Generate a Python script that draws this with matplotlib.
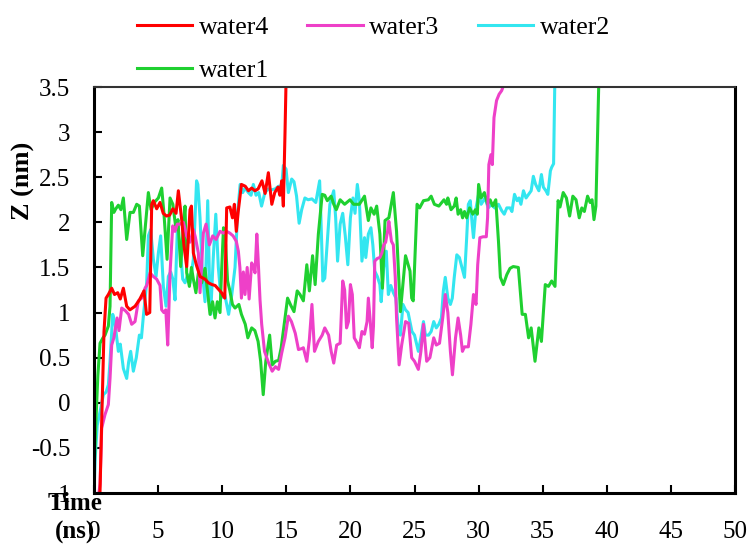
import numpy as np
import matplotlib
matplotlib.use("Agg")
import matplotlib.pyplot as plt

plt.rcParams['font.family'] = ['Liberation Serif', 'DejaVu Serif']

# (time ns, Z nm)
water4 = [(0.3, -1.1), (0.47, -0.98), (0.6, -0.21), (0.78, 0.79), (0.94, 1.16), (1.12, 1.2),
          (1.38, 1.27), (1.6, 1.2), (1.85, 1.22), (2.05, 1.15), (2.29, 1.27), (2.55, 1.07),
          (2.8, 1.03), (3.2, 1.07), (3.54, 1.14), (3.9, 1.24), (4.1, 0.98), (4.35, 1.0),
          (4.5, 2.2), (4.63, 2.24), (4.89, 2.15), (5.15, 2.22), (5.4, 2.1), (5.65, 2.07),
          (5.9, 2.08), (6.15, 2.15), (6.4, 2.1), (6.58, 2.35), (6.84, 2.03), (7.02, 1.74),
          (7.23, 1.51), (7.49, 2.14), (7.6, 2.18), (7.75, 1.66), (8.0, 1.52), (8.27, 1.40),
          (8.66, 1.37), (8.92, 1.33), (9.2, 1.31), (9.45, 1.3), (9.7, 1.26), (9.95, 1.22),
          (10.1, 1.18), (10.2, 1.16), (10.35, 2.16), (10.6, 2.17), (10.8, 2.05), (10.95, 2.2),
          (11.1, 1.9), (11.25, 2.12), (11.5, 2.42), (11.8, 2.4), (12.05, 2.35), (12.3, 2.38),
          (12.55, 2.35), (12.8, 2.37), (13.1, 2.46), (13.35, 2.32), (13.6, 2.55), (13.87, 2.2),
          (14.1, 2.33), (14.35, 2.39), (14.5, 2.3), (14.64, 2.46), (14.77, 2.18), (14.9, 3.0),
          (15.0, 3.7)]

water3 = [(0.3, -1.1), (0.47, -0.9), (0.6, -0.28), (0.86, -0.13), (1.12, -0.02), (1.25, 0.27),
          (1.38, 0.64), (1.55, 0.72), (1.8, 0.94), (1.95, 0.8), (2.16, 1.05), (2.45, 1.02),
          (2.7, 0.98), (2.94, 0.87), (3.2, 0.9), (3.46, 1.13), (3.72, 1.16), (3.98, 1.27),
          (4.11, 1.3), (4.37, 1.44), (4.63, 1.4), (4.89, 1.37), (5.15, 1.3), (5.28, 1.03),
          (5.45, 1.0), (5.6, 1.03), (5.75, 0.64), (5.93, 1.44), (6.14, 1.96), (6.32, 1.9),
          (6.5, 1.98), (6.71, 1.98), (6.97, 2.0), (7.23, 1.85), (7.49, 1.78), (7.75, 1.92),
          (7.9, 1.84), (8.14, 1.66), (8.27, 1.22), (8.53, 1.88), (8.74, 1.98), (9.0, 1.75),
          (9.26, 1.85), (9.52, 1.81), (9.83, 1.9), (10.1, 1.88), (10.35, 1.9), (10.6, 1.88),
          (10.85, 1.85), (11.1, 1.79), (11.26, 1.68), (11.38, 1.5), (11.5, 1.16), (11.65, 1.45),
          (11.78, 1.2), (11.95, 1.5), (12.1, 1.15), (12.3, 1.55), (12.45, 1.5), (12.56, 1.44),
          (12.7, 1.87), (12.8, 1.6), (12.95, 1.14), (13.08, 0.87), (13.3, 0.57), (13.6, 0.45),
          (13.9, 0.35), (14.15, 0.4), (14.4, 0.37), (14.64, 0.55), (14.9, 0.72), (15.16, 0.96),
          (15.4, 0.9), (15.7, 0.77), (15.95, 0.59), (16.2, 0.6), (16.33, 0.61), (16.6, 0.46),
          (16.8, 0.7), (17.0, 1.09), (17.2, 0.57), (17.5, 0.68), (17.8, 0.75), (18.0, 0.83),
          (18.3, 0.75), (18.5, 0.57), (18.7, 0.44), (18.93, 0.64), (19.2, 0.66), (19.4, 1.35),
          (19.55, 1.25), (19.7, 0.83), (19.85, 0.9), (20.0, 1.31), (20.15, 1.2), (20.3, 0.72),
          (20.54, 0.66), (20.7, 0.61), (20.9, 0.79), (21.1, 0.76), (21.3, 0.9), (21.4, 1.16),
          (21.55, 0.9), (21.7, 0.61), (21.8, 0.85), (21.9, 1.57), (22.1, 1.6), (22.3, 1.61),
          (22.45, 1.66), (22.6, 1.75), (22.75, 1.78), (22.9, 1.90), (23.0, 2.01), (23.2, 1.79),
          (23.35, 1.75), (23.5, 1.39), (23.6, 0.94), (23.8, 0.42), (24.0, 0.64), (24.3, 0.90),
          (24.55, 0.88), (24.78, 0.5), (25.0, 0.46), (25.3, 0.37), (25.5, 0.57), (25.7, 0.87),
          (25.95, 0.46), (26.2, 0.5), (26.5, 0.72), (26.7, 0.64), (26.95, 0.66), (27.2, 0.94),
          (27.4, 1.2), (27.6, 1.0), (27.8, 0.57), (27.96, 0.31), (28.2, 0.72), (28.4, 0.94),
          (28.6, 0.75), (28.74, 0.57), (28.9, 0.62), (29.2, 0.62), (29.4, 0.87), (29.6, 1.2),
          (29.8, 1.09), (29.93, 1.53), (30.1, 1.83), (30.35, 1.84), (30.6, 1.84), (30.7, 2.05),
          (30.8, 2.64), (30.96, 2.75), (31.07, 2.64), (31.2, 3.16), (31.4, 3.35), (31.6, 3.42),
          (31.8, 3.46), (31.95, 3.52), (32.1, 3.7)]

water2 = [(0.0, -1.0), (0.1, -0.6), (0.25, -0.25), (0.47, -0.1), (0.73, 0.09), (0.95, 0.12),
          (1.12, 0.2), (1.25, 0.46), (1.46, 0.98), (1.64, 0.88), (1.9, 0.57), (2.05, 0.65),
          (2.29, 0.38), (2.55, 0.27), (2.7, 0.45), (2.86, 0.57), (3.07, 0.35), (3.3, 0.5),
          (3.54, 0.75), (3.7, 0.72), (3.85, 0.96), (4.11, 1.33), (4.24, 1.85), (4.42, 1.92),
          (4.63, 1.59), (4.84, 1.4), (5.02, 1.66), (5.2, 1.85), (5.41, 1.29), (5.62, 1.07),
          (5.8, 1.4), (5.98, 1.45), (6.15, 1.37), (6.32, 1.14), (6.5, 1.92), (6.71, 1.75),
          (6.92, 1.37), (7.1, 1.33), (7.3, 1.42), (7.49, 1.33), (7.75, 1.59), (8.0, 2.46),
          (8.1, 2.42), (8.27, 2.05), (8.45, 1.46), (8.66, 1.12), (8.87, 2.24), (9.05, 1.1),
          (9.1, 0.98), (9.3, 1.6), (9.5, 2.09), (9.7, 1.5), (9.9, 1.16), (10.2, 1.2),
          (10.5, 0.98), (10.75, 1.2), (11.0, 1.5), (11.2, 2.1), (11.4, 2.42), (11.6, 2.33),
          (11.78, 2.38), (12.04, 2.33), (12.25, 2.3), (12.43, 2.42), (12.64, 2.3), (12.85, 2.33),
          (13.07, 2.18), (13.33, 2.33), (13.6, 2.37), (13.85, 2.36), (14.12, 2.37), (14.4, 2.40),
          (14.64, 2.40), (14.77, 2.63), (14.98, 2.59), (15.16, 2.33), (15.42, 2.48), (15.6, 2.45),
          (15.8, 2.29), (16.0, 1.99), (16.2, 2.14), (16.45, 2.27), (16.7, 2.25), (17.0, 2.26),
          (17.3, 2.22), (17.6, 2.46), (17.7, 2.05), (17.85, 1.35), (18.0, 1.38), (18.2, 1.79),
          (18.4, 2.2), (18.7, 2.35), (18.85, 2.05), (19.0, 1.57), (19.2, 1.98), (19.4, 2.1),
          (19.6, 1.85), (19.8, 1.53), (20.0, 2.05), (20.2, 2.27), (20.36, 2.1), (20.54, 2.42),
          (20.7, 2.24), (20.9, 1.57), (21.1, 1.83), (21.2, 1.61), (21.4, 1.87), (21.6, 1.94),
          (21.75, 1.75), (21.9, 1.46), (22.1, 1.4), (22.3, 1.31), (22.4, 1.12), (22.6, 1.5),
          (22.8, 1.68), (22.96, 1.2), (23.15, 1.3), (23.35, 1.22), (23.55, 1.16), (23.7, 0.87),
          (23.9, 0.75), (24.1, 1.09), (24.3, 1.03), (24.5, 1.0), (24.8, 0.79), (25.0, 0.75),
          (25.3, 0.57), (25.5, 0.72), (25.7, 0.9), (25.85, 0.75), (26.1, 0.75), (26.3, 0.79),
          (26.5, 0.9), (26.7, 0.83), (26.9, 0.87), (27.1, 0.94), (27.25, 1.24), (27.4, 1.39),
          (27.6, 1.16), (27.8, 1.09), (27.95, 1.16), (28.1, 1.39), (28.3, 1.64), (28.5, 1.61),
          (28.7, 1.5), (28.9, 1.39), (29.07, 1.83), (29.2, 2.2), (29.35, 2.24), (29.5, 1.98),
          (29.6, 1.83), (29.8, 2.16), (30.0, 2.31), (30.2, 2.2), (30.5, 2.27), (30.75, 2.16),
          (31.0, 2.2), (31.25, 2.16), (31.55, 2.2), (31.8, 2.13), (32.0, 2.09), (32.2, 2.16),
          (32.45, 2.16), (32.6, 2.12), (32.8, 2.31), (33.0, 2.24), (33.15, 2.27), (33.3, 2.2),
          (33.5, 2.35), (33.7, 2.27), (33.9, 2.31), (34.1, 2.35), (34.27, 2.51), (34.45, 2.42),
          (34.7, 2.35), (34.9, 2.53), (35.05, 2.39), (35.25, 2.35), (35.4, 2.31), (35.6, 2.57),
          (35.7, 2.61), (35.85, 2.65), (35.96, 3.7)]

water1 = [(0.0, -0.8), (0.15, -0.2), (0.3, 0.3), (0.47, 0.66), (0.7, 0.72), (0.86, 0.75),
          (1.12, 0.85), (1.25, 1.07), (1.38, 2.22), (1.55, 2.11), (1.7, 2.15), (1.9, 2.19),
          (2.1, 2.14), (2.29, 2.27), (2.55, 1.81), (2.81, 2.11), (3.07, 2.11), (3.33, 2.2),
          (3.54, 2.18), (3.8, 1.63), (4.0, 1.95), (4.24, 2.33), (4.45, 2.14), (4.7, 2.22),
          (5.02, 2.27), (5.28, 2.38), (5.45, 2.11), (5.7, 1.59), (5.93, 2.27), (6.15, 2.2),
          (6.4, 1.92), (6.55, 2.03), (6.76, 1.51), (6.95, 1.92), (7.1, 2.18), (7.23, 1.44),
          (7.44, 1.29), (7.6, 1.5), (7.75, 1.37), (7.95, 1.22), (8.14, 1.44), (8.4, 1.33),
          (8.66, 1.49), (8.85, 1.24), (9.05, 0.98), (9.25, 1.12), (9.44, 0.94), (9.62, 1.12),
          (9.83, 1.0), (9.95, 1.45), (10.1, 1.94), (10.27, 1.75), (10.42, 1.35), (10.6, 1.24),
          (10.8, 1.09), (11.0, 1.05), (11.3, 1.09), (11.5, 0.98), (11.8, 0.87), (12.0, 0.72),
          (12.3, 0.83), (12.55, 0.8), (12.8, 0.68), (13.0, 0.46), (13.2, 0.09), (13.4, 0.46),
          (13.7, 0.75), (13.9, 0.42), (14.15, 0.46), (14.4, 0.47), (14.6, 0.61), (14.9, 0.94),
          (15.1, 1.16), (15.35, 1.08), (15.6, 1.01), (15.85, 1.24), (16.07, 1.20), (16.33, 1.13),
          (16.6, 1.53), (16.8, 1.24), (17.05, 1.63), (17.25, 1.31), (17.5, 1.87), (17.8, 2.31),
          (18.0, 2.3), (18.2, 2.24), (18.5, 2.29), (18.7, 2.2), (18.9, 2.14), (19.2, 2.25),
          (19.55, 2.2), (19.97, 2.25), (20.25, 2.2), (20.7, 2.2), (21.1, 2.29), (21.4, 2.02),
          (21.6, 2.16), (21.85, 2.09), (22.05, 2.18), (22.3, 1.87), (22.5, 1.27), (22.7, 2.02),
          (23.0, 2.05), (23.35, 2.33), (23.6, 1.9), (23.9, 1.01), (24.3, 1.63), (24.65, 1.46),
          (24.78, 1.16), (24.9, 1.13), (25.2, 2.2), (25.4, 2.16), (25.7, 2.24), (26.08, 2.25),
          (26.3, 2.29), (26.55, 2.2), (26.9, 2.18), (27.3, 2.25), (27.5, 2.2), (27.6, 2.27),
          (27.85, 2.14), (28.1, 2.18), (28.25, 2.27), (28.4, 2.09), (28.6, 2.14), (28.75, 2.05),
          (28.9, 2.12), (29.07, 2.05), (29.3, 2.16), (29.55, 2.09), (29.75, 2.14), (29.9, 2.09),
          (30.0, 2.42), (30.2, 2.27), (30.45, 2.33), (30.7, 2.2), (30.9, 2.25), (31.1, 2.18),
          (31.34, 2.25), (31.55, 1.79), (31.7, 1.39), (31.93, 1.31), (32.2, 1.42), (32.45, 1.49),
          (32.7, 1.51), (33.1, 1.5), (33.4, 0.98), (33.65, 0.98), (33.9, 0.72), (34.1, 0.83),
          (34.4, 0.46), (34.7, 0.83), (34.9, 0.68), (35.2, 1.31), (35.45, 1.29), (35.7, 1.35),
          (35.96, 1.29), (36.2, 2.24), (36.35, 2.17), (36.6, 2.33), (36.85, 2.27), (37.1, 2.07),
          (37.35, 2.29), (37.6, 2.25), (37.85, 2.05), (38.05, 2.16), (38.25, 2.12), (38.5, 2.29),
          (38.7, 2.22), (38.85, 2.25), (39.0, 2.03), (39.15, 2.18), (39.4, 3.7)]

colors = {'water4': '#ff0000', 'water3': '#ee40c8', 'water2': '#33e6f0', 'water1': '#1fd030'}
series = {'water4': water4, 'water3': water3, 'water2': water2, 'water1': water1}

xticks = [0, 5, 10, 15, 20, 25, 30, 35, 40, 45, 50]
yticks = [-1, -0.5, 0, 0.5, 1, 1.5, 2, 2.5, 3, 3.5]
ytick_labels = ['-1', '-0.5', '0', '0.5', '1', '1.5', '2', '2.5', '3', '3.5']

fig = plt.figure(figsize=(7.51, 5.49), dpi=100)
ax = fig.add_axes([94 / 751, 1 - 493 / 549, 641 / 751, 406 / 549])

lines = {}
for name in ['water2', 'water1', 'water3', 'water4']:
    t, z = np.array(series[name]).T
    lines[name], = ax.plot(t, z, color=colors[name], lw=2.2, label=name)

ax.set_xlim(0, 50)
ax.set_ylim(-1, 3.5)
ax.set_xticks(xticks)
ax.set_yticks(yticks)
ax.set_yticklabels(ytick_labels)
ax.tick_params(direction='in', length=6, width=1.5, labelsize=18)
ax.tick_params(axis='x', pad=20)
ax.tick_params(axis='y', pad=17)
for side in ['left', 'bottom', 'right']:
    ax.spines[side].set_linewidth(2.2)
ax.spines['top'].set_linewidth(1.5)
ax.spines['top'].set_color('#333333')

ax.set_ylabel('Z (nm)', fontsize=19, fontweight='bold')
ax.yaxis.set_label_coords(-0.092, 0.768)
ax.text(-0.03, -0.025, 'Time', transform=ax.transAxes, fontsize=18,
        fontweight='bold', ha='center', va='center')
ax.text(-0.03, -0.097, '(ns)', transform=ax.transAxes, fontsize=18,
        fontweight='bold', ha='center', va='center')

order = ['water4', 'water1', 'water3', 'water2']
fig.legend([lines[n] for n in order], order, ncol=3, loc='upper left',
           bbox_to_anchor=(137 / 751, 1 - 16 / 549), frameon=False, fontsize=18.5,
           handlelength=2.15, handletextpad=0.25, columnspacing=1.5,
           labelspacing=0.78, borderpad=0, borderaxespad=0)

fig.savefig('out.png', dpi=100)
